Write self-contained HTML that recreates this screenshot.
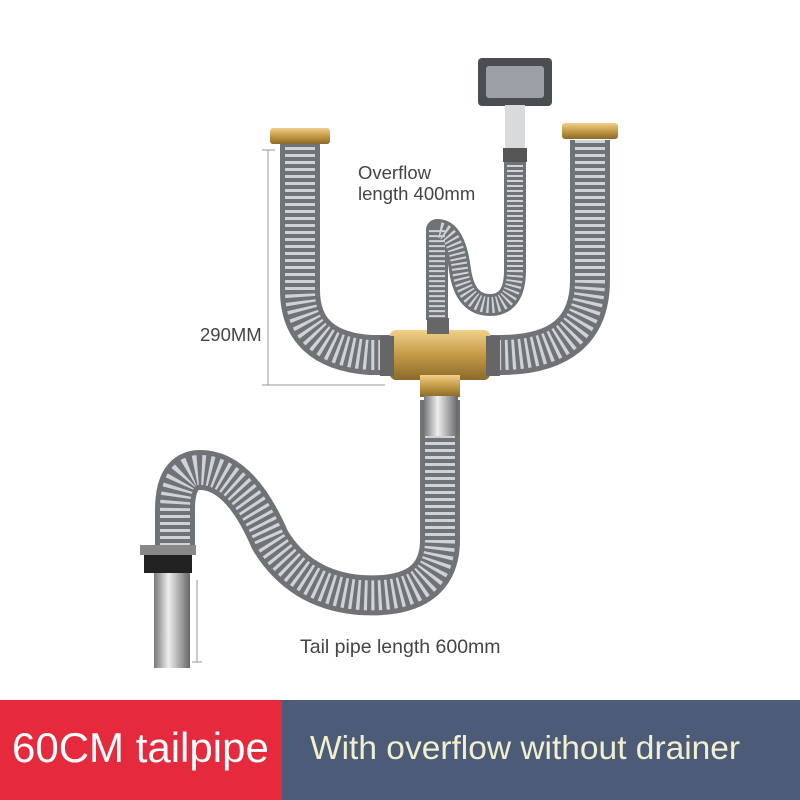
<!DOCTYPE html>
<html><head><meta charset="utf-8"><style>
html,body{margin:0;padding:0;background:#fff;}
body{width:800px;height:800px;overflow:hidden;position:relative;font-family:"Liberation Sans",Arial,sans-serif;}
.b1{position:absolute;left:0;top:700px;width:282px;height:100px;background:#e42a3c;}
.b2{position:absolute;left:282px;top:700px;width:518px;height:100px;background:#4b5b78;}
.t1{position:absolute;left:12px;top:724px;font-size:42px;color:#fff;}
.t2{position:absolute;left:310px;top:730px;font-size:33.5px;color:#f2efcf;}
.lbl{position:absolute;font-size:18.5px;color:#444;}
</style></head><body>
<svg width="800" height="700" style="position:absolute;left:0;top:0">
<defs>
<linearGradient id="brass" x1="0" y1="0" x2="0" y2="1"><stop offset="0" stop-color="#f0d08a"/><stop offset=".5" stop-color="#c49a45"/><stop offset="1" stop-color="#8a6a2a"/></linearGradient>
<linearGradient id="chrome" x1="0" y1="0" x2="1" y2="0"><stop offset="0" stop-color="#777"/><stop offset=".4" stop-color="#eee"/><stop offset="1" stop-color="#666"/></linearGradient>
</defs>
<g fill="none" stroke-linecap="butt" stroke-linejoin="round">
<g stroke="#6f7378" stroke-width="40">
<path d="M300 140 L300 290 Q300 350 370 355 L400 355"/>
<path d="M590 140 L590 280 Q590 355 500 355 L480 355"/>
<path d="M440 400 L440 540 Q440 600 360 595 Q300 590 270 540 Q240 470 200 470 Q175 470 175 510 L175 545"/>
</g>
<g stroke="#d0d3d6" stroke-width="30" stroke-dasharray="3 4">
<path d="M300 140 L300 290 Q300 350 370 355 L400 355"/>
<path d="M590 140 L590 280 Q590 355 500 355 L480 355"/>
<path d="M440 400 L440 540 Q440 600 360 595 Q300 590 270 540 Q240 470 200 470 Q175 470 175 510 L175 545"/>
</g>
<g stroke="#6f7378" stroke-width="22">
<path d="M515 160 L515 270 Q515 305 490 305 Q465 305 460 270 Q455 230 437 230 Q437 230 437 320"/>
</g>
<g stroke="#d0d3d6" stroke-width="16" stroke-dasharray="2 3">
<path d="M515 160 L515 270 Q515 305 490 305 Q465 305 460 270 Q455 230 437 230 Q437 230 437 320"/>
</g>
</g>
<rect x="270" y="128" width="60" height="16" rx="3" fill="url(#brass)"/>
<rect x="562" y="123" width="56" height="16" rx="3" fill="url(#brass)"/>
<rect x="478" y="58" width="74" height="48" rx="4" fill="#4a4d52"/>
<rect x="486" y="66" width="58" height="32" rx="3" fill="#9aa0a6"/>
<rect x="505" y="105" width="20" height="45" fill="#d8dadc"/>
<rect x="503" y="148" width="24" height="14" fill="#555"/>
<rect x="390" y="330" width="100" height="50" rx="6" fill="url(#brass)"/>
<rect x="380" y="336" width="14" height="40" fill="#666"/>
<rect x="486" y="336" width="14" height="40" fill="#666"/>
<rect x="420" y="375" width="40" height="22" fill="url(#brass)"/>
<rect x="427" y="318" width="22" height="16" fill="#666"/>
<rect x="424" y="396" width="34" height="40" fill="url(#chrome)"/>
<rect x="140" y="545" width="56" height="10" fill="#888"/>
<rect x="144" y="555" width="48" height="18" fill="#222"/>
<rect x="154" y="573" width="36" height="95" fill="url(#chrome)"/>
<g stroke="#999" stroke-width="1" fill="none">
<path d="M268 150 L268 385 M262 150 L275 150 M262 385 L385 385"/>
<path d="M197 580 L197 662 M192 662 L202 662"/>
</g>
</svg>
<div class="lbl" style="left:358px;top:162px;">Overflow</div>
<div class="lbl" style="left:358px;top:183px;">length 400mm</div>
<div class="lbl" style="left:200px;top:324px;">290MM</div>
<div class="lbl" style="left:300px;top:636px;font-size:19.5px;">Tail pipe length 600mm</div>
<div class="b1"></div><div class="b2"></div>
<div class="t1">60CM tailpipe</div>
<div class="t2">With overflow without drainer</div>
</body></html>
